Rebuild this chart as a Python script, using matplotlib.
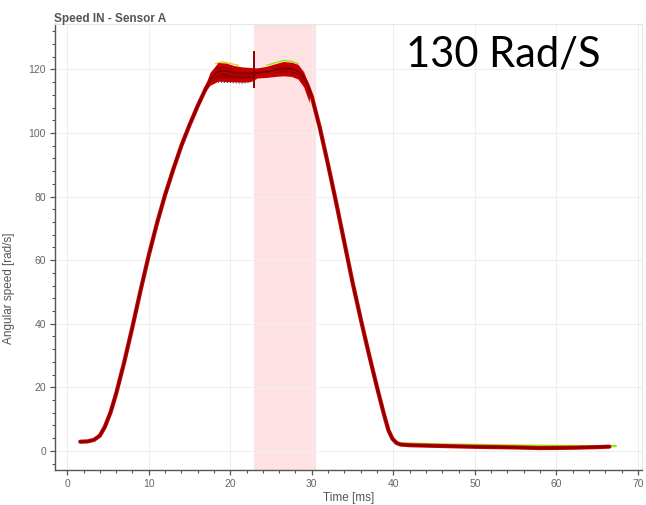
import matplotlib
matplotlib.use("Agg")
import matplotlib.pyplot as plt
from matplotlib.ticker import MultipleLocator

# mean speed trace
time_ms = [1.6, 2.5, 3.3, 4.0, 4.6, 5.3, 6.0, 7.0, 8.0, 9.0, 10.0, 11.0, 12.0, 13.0,
           14.0, 15.0, 16.0, 17.0, 17.6, 18.2, 18.8, 19.5, 20.5, 21.5, 22.5, 22.9,
           23.5, 24.5, 25.5, 26.5, 27.5, 28.2, 28.8, 29.4, 30.0, 31.0, 32.0, 33.0,
           34.0, 35.0, 36.0, 37.0, 38.0, 38.8, 39.4, 39.9, 40.4, 40.9, 42.0, 45.0,
           50.0, 55.0, 58.0, 62.0, 65.0, 66.5]
speed = [2.9, 3.0, 3.5, 4.8, 7.5, 12.0, 18.0, 28.0, 39.0, 50.5, 61.5, 71.5, 80.5, 88.5,
         96.0, 102.5, 108.5, 114.0, 116.8, 118.8, 119.6, 119.5, 119.0, 118.8, 118.7, 118.8,
         119.0, 119.3, 119.8, 120.3, 120.2, 119.6, 118.5, 115.5, 111.5, 101.5, 90.0, 78.0,
         65.5, 53.0, 41.5, 30.5, 20.0, 12.0, 6.5, 3.8, 2.5, 2.0, 1.8, 1.6,
         1.3, 1.1, 0.9, 1.0, 1.2, 1.35]

# spread of the overlaid runs on the plateau
band_t = [16.8, 17.5, 18.5, 19.5, 20.5, 21.5, 22.5, 23.3, 24.5, 25.5, 26.5, 27.5, 28.3, 29.0, 29.7]
band_hi = [114.0, 119.0, 122.2, 122.0, 121.2, 120.8, 120.6, 120.5, 121.0, 121.8, 122.5, 122.3, 121.6, 119.3, 114.5]
band_lo = [112.5, 115.0, 116.3, 116.2, 116.1, 116.0, 116.2, 117.3, 117.5, 117.8, 118.0, 117.8, 117.0, 114.5, 109.5]

# a few runs that stick out of the bundle
green_t = [24.5, 25.5, 26.5, 27.5, 28.3]
green_v = [121.3, 122.1, 122.8, 122.6, 121.8]
yellow_t = [18.2, 19.0, 20.0, 21.0]
yellow_v = [121.8, 122.4, 121.9, 121.3]
blue_t = [18.5, 19.5, 20.5, 21.5, 22.5]
blue_v = [116.0, 115.9, 115.8, 115.7, 115.9]
tail_t = [41.0, 45.0, 50.0, 55.0, 60.0, 65.0, 67.3]
tail_v = [2.4, 2.1, 1.9, 1.7, 1.6, 1.5, 1.5]

spike_t = 22.9
spike_lo, spike_hi = 114.5, 125.5
span_start, span_end = 22.95, 30.5

plt.rcParams["font.family"] = ["Liberation Sans", "DejaVu Sans"]

fig = plt.figure(figsize=(6.46, 5.05), dpi=100)
ax = fig.add_axes([0.0851, 0.0693, 0.9087, 0.8832])

ax.axvspan(span_start, span_end, color="#ffe1e3", zorder=0, lw=0)

ax.plot(tail_t, tail_v, color="#9be800", lw=1.6, zorder=2, solid_capstyle="round")
ax.fill_between(band_t, band_lo, band_hi, color="#c40000", lw=0, zorder=3)
ax.fill_between(band_t, [l + 1.2 for l in band_lo], [h - 1.2 for h in band_hi],
                color="#9a0000", lw=0, zorder=3)
ax.plot(yellow_t, yellow_v, color="#e0d000", lw=0.9, zorder=2)
ax.plot(green_t, green_v, color="#9be800", lw=1.0, zorder=2)
ax.plot(blue_t, blue_v, color="#3040c0", lw=0.8, ls=":", zorder=2)
ax.plot(time_ms, speed, color="#d10000", lw=3.0, zorder=4, solid_capstyle="round")
ax.plot(time_ms, speed, color="#8a0000", lw=1.7, zorder=5, solid_capstyle="round")
ax.plot([spike_t, spike_t], [spike_lo, spike_hi], color="#8a0000", lw=1.4, zorder=6)

ax.set_xlim(-1.5, 70.5)
ax.set_ylim(-6, 134.3)
ax.xaxis.set_major_locator(MultipleLocator(10))
ax.xaxis.set_minor_locator(MultipleLocator(2))
ax.yaxis.set_major_locator(MultipleLocator(20))
ax.yaxis.set_minor_locator(MultipleLocator(4))

ax.grid(True, which="major", color="#efefef", lw=0.8, zorder=0)
ax.set_axisbelow(True)
for side in ("top", "right"):
    ax.spines[side].set_color("#e6e6e6")
for side in ("left", "bottom"):
    ax.spines[side].set_color("#555555")
    ax.spines[side].set_linewidth(1.0)

ax.tick_params(which="major", direction="out", length=3.5, width=0.9, color="#555555",
               labelsize=7.5, labelcolor="#666666", pad=3)
ax.tick_params(which="minor", direction="out", length=2.2, width=0.8, color="#555555")

ax.set_xlabel("Time [ms]", fontsize=8.5, color="#555555", labelpad=2)
ax.set_ylabel("Angular speed [rad/s]", fontsize=8.5, color="#555555")
ax.yaxis.set_label_coords(-0.068, 0.408)

fig.text(0.084, 0.975, "Speed IN - Sensor A", fontsize=8.5, fontweight="bold",
         color="#555555", ha="left", va="top")
fig.text(0.629, 0.868, "130 Rad/S", fontsize=30, family="Lato",
         color="black", ha="left", va="baseline")

fig.savefig("out.png", dpi=100, facecolor="white")
